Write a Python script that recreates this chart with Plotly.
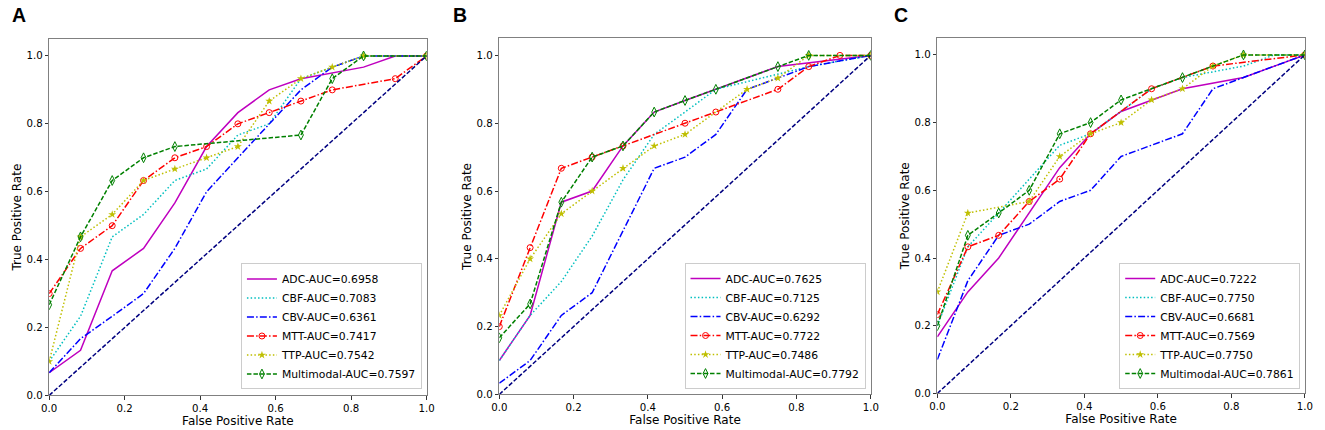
import plotly.graph_objects as go

# ROC curves (A, B, C)
MODELS = ["ADC", "CBF", "CBV", "MTT", "TTP", "Multimodal"]
PANELS = ["A", "B", "C"]

AUC_A = ["0.6958", "0.7083", "0.6361", "0.7417", "0.7542", "0.7597"]
AUC_B = ["0.7625", "0.7125", "0.6292", "0.7722", "0.7486", "0.7792"]
AUC_C = ["0.7222", "0.7750", "0.6681", "0.7569", "0.7750", "0.7861"]

# panel A
a_adc_x = [0, 0.083, 0.167, 0.25, 0.333, 0.417, 0.5, 0.583, 0.667, 0.75, 0.833, 0.917, 1.0]
a_adc_y = [0.067, 0.133, 0.367, 0.433, 0.567, 0.733, 0.833, 0.9, 0.933, 0.95, 0.967, 1.0, 1.0]
a_cbf_x = [0, 0.083, 0.167, 0.25, 0.333, 0.417, 0.5, 0.583, 0.667, 0.75, 0.833, 1.0]
a_cbf_y = [0.1, 0.233, 0.467, 0.533, 0.633, 0.667, 0.767, 0.8, 0.933, 0.967, 1.0, 1.0]
a_cbv_x = [0, 0.083, 0.167, 0.25, 0.333, 0.417, 0.5, 0.583, 0.667, 0.75, 0.833, 1.0]
a_cbv_y = [0.067, 0.167, 0.233, 0.3, 0.433, 0.6, 0.7, 0.8, 0.9, 0.967, 1.0, 1.0]
a_mtt_x = [0, 0.083, 0.167, 0.25, 0.333, 0.417, 0.5, 0.583, 0.667, 0.75, 0.917, 1.0]
a_mtt_y = [0.3, 0.433, 0.5, 0.633, 0.7, 0.733, 0.8, 0.833, 0.867, 0.9, 0.933, 1.0]
a_ttp_x = [0, 0.083, 0.167, 0.25, 0.333, 0.417, 0.5, 0.583, 0.667, 0.75, 0.833, 1.0]
a_ttp_y = [0.1, 0.467, 0.533, 0.633, 0.667, 0.7, 0.733, 0.867, 0.933, 0.967, 1.0, 1.0]
a_mm_x = [0, 0.083, 0.167, 0.25, 0.333, 0.667, 0.75, 0.833, 1.0]
a_mm_y = [0.267, 0.467, 0.633, 0.7, 0.733, 0.767, 0.933, 1.0, 1.0]

# panel B
b_adc_x = [0, 0.083, 0.167, 0.25, 0.333, 0.417, 0.5, 0.583, 0.75, 1.0]
b_adc_y = [0.1, 0.233, 0.567, 0.6, 0.733, 0.833, 0.867, 0.9, 0.967, 1.0]
b_cbf_x = [0, 0.083, 0.167, 0.25, 0.333, 0.417, 0.5, 0.583, 0.833, 1.0]
b_cbf_y = [0.1, 0.233, 0.333, 0.467, 0.633, 0.767, 0.833, 0.9, 0.967, 1.0]
b_cbv_x = [0, 0.083, 0.167, 0.25, 0.417, 0.5, 0.583, 0.667, 0.75, 0.833, 1.0]
b_cbv_y = [0.033, 0.1, 0.233, 0.3, 0.667, 0.7, 0.767, 0.9, 0.933, 0.967, 1.0]
b_mtt_x = [0, 0.083, 0.167, 0.25, 0.333, 0.5, 0.583, 0.75, 0.833, 0.917, 1.0]
b_mtt_y = [0.2, 0.433, 0.667, 0.7, 0.733, 0.8, 0.833, 0.9, 0.967, 1.0, 1.0]
b_ttp_x = [0, 0.083, 0.167, 0.25, 0.333, 0.417, 0.5, 0.667, 0.75, 0.833, 1.0]
b_ttp_y = [0.233, 0.4, 0.533, 0.6, 0.667, 0.733, 0.767, 0.9, 0.933, 1.0, 1.0]
b_mm_x = [0, 0.083, 0.167, 0.25, 0.333, 0.417, 0.5, 0.583, 0.75, 0.833, 1.0]
b_mm_y = [0.167, 0.267, 0.567, 0.7, 0.733, 0.833, 0.867, 0.9, 0.967, 1.0, 1.0]

# panel C
c_adc_x = [0, 0.083, 0.167, 0.25, 0.333, 0.417, 0.5, 0.667, 0.833, 1.0]
c_adc_y = [0.167, 0.3, 0.4, 0.533, 0.667, 0.767, 0.833, 0.9, 0.933, 1.0]
c_cbf_x = [0, 0.083, 0.167, 0.25, 0.333, 0.417, 0.5, 0.583, 0.667, 0.833, 0.917, 1.0]
c_cbf_y = [0.2, 0.433, 0.533, 0.633, 0.733, 0.767, 0.833, 0.9, 0.933, 0.967, 1.0, 1.0]
c_cbv_x = [0, 0.083, 0.167, 0.25, 0.333, 0.417, 0.5, 0.667, 0.75, 0.833, 1.0]
c_cbv_y = [0.1, 0.333, 0.467, 0.5, 0.567, 0.6, 0.7, 0.767, 0.9, 0.933, 1.0]
c_mtt_x = [0, 0.083, 0.167, 0.25, 0.333, 0.417, 0.583, 0.75, 1.0]
c_mtt_y = [0.233, 0.433, 0.467, 0.567, 0.633, 0.767, 0.9, 0.967, 1.0]
c_ttp_x = [0, 0.083, 0.25, 0.333, 0.417, 0.5, 0.583, 0.667, 0.75, 0.833, 1.0]
c_ttp_y = [0.3, 0.533, 0.567, 0.7, 0.767, 0.8, 0.867, 0.9, 0.967, 1.0, 1.0]
c_mm_x = [0, 0.083, 0.167, 0.25, 0.333, 0.417, 0.5, 0.667, 0.833, 1.0]
c_mm_y = [0.2, 0.467, 0.533, 0.6, 0.767, 0.8, 0.867, 0.933, 1.0, 1.0]

DIAG = [0, 1]

W, H = 1325, 430
# plot areas in pixels: (left, right, top, bottom)
boxes = [(41.7, 423.7, 39.5, 401), (497.3, 873.3, 39, 400), (940.7, 1312.7, 38.5, 399)]
legend_pos = [(419, 395), (868, 394.5), (1308, 394.5)]
letter_x = [3, 449, 896]

styles = {
    "ADC": dict(line=dict(color="#bf00bf", dash="solid"), mode="lines"),
    "CBF": dict(line=dict(color="#00bfbf", dash="1.5px,2.2px"), mode="lines"),
    "CBV": dict(line=dict(color="#0000ff", dash="7px,2.2px,1.5px,2.2px"), mode="lines"),
    "MTT": dict(line=dict(color="#ff0000", dash="7px,2.2px,1.5px,2.2px"), mode="lines+markers",
                marker=dict(symbol="circle-open", size=6, color="#ff0000", line=dict(width=1))),
    "TTP": dict(line=dict(color="#bfbf00", dash="1.5px,2.2px"), mode="lines+markers",
                marker=dict(symbol="star", size=6, color="#bfbf00")),
    "Multimodal": dict(line=dict(color="#008000", dash="4.5px,2px"), mode="lines+markers",
                       marker=dict(symbol="diamond-tall-open", size=7, color="#008000", line=dict(width=1))),
}

data = {
    "A": [(a_adc_x, a_adc_y), (a_cbf_x, a_cbf_y), (a_cbv_x, a_cbv_y),
          (a_mtt_x, a_mtt_y), (a_ttp_x, a_ttp_y), (a_mm_x, a_mm_y)],
    "B": [(b_adc_x, b_adc_y), (b_cbf_x, b_cbf_y), (b_cbv_x, b_cbv_y),
          (b_mtt_x, b_mtt_y), (b_ttp_x, b_ttp_y), (b_mm_x, b_mm_y)],
    "C": [(c_adc_x, c_adc_y), (c_cbf_x, c_cbf_y), (c_cbv_x, c_cbv_y),
          (c_mtt_x, c_mtt_y), (c_ttp_x, c_ttp_y), (c_mm_x, c_mm_y)],
}
aucs = {"A": AUC_A, "B": AUC_B, "C": AUC_C}

font = "DejaVu Sans"
fig = go.Figure()
layout = dict(width=W, height=H, margin=dict(l=0, r=0, t=0, b=0),
              paper_bgcolor="white", plot_bgcolor="white", annotations=[])

for i, p in enumerate(PANELS):
    n = "" if i == 0 else str(i + 1)
    xa, ya = "x" + n, "y" + n
    lg = "legend" + n
    for m, (xs, ys), auc in zip(MODELS, data[p], aucs[p]):
        st = styles[m]
        fig.add_trace(go.Scatter(x=xs, y=ys, name=f"{m}-AUC={auc}", xaxis=xa, yaxis=ya,
                                 legend=lg, mode=st["mode"],
                                 line=dict(width=1.5, **st["line"]),
                                 marker=st.get("marker")))
    fig.add_trace(go.Scatter(x=DIAG, y=DIAG, xaxis=xa, yaxis=ya, mode="lines", showlegend=False,
                             line=dict(color="#000080", width=1.5, dash="4.5px,2px")))

    l, r, t, b = boxes[i]
    common = dict(showline=True, mirror=True, linecolor="#808080", linewidth=1,
                  ticks="outside", ticklen=3.5, tickwidth=0.8, tickcolor="#333",
                  tickfont=dict(family=font, size=10.2, color="black"),
                  showgrid=False, zeroline=False, tickformat=".1f", dtick=0.2, tick0=0)
    layout["xaxis" + n] = dict(domain=[l / W, r / W], range=[0, 1], anchor=ya,
                               title=dict(text="False Positive Rate", standoff=2,
                                          font=dict(family=font, size=12, color="black")),
                               **common)
    layout["yaxis" + n] = dict(domain=[1 - b / H, 1 - t / H], range=[0, 1.05], anchor=xa,
                               title=dict(text="True Positive Rate", standoff=2,
                                          font=dict(family=font, size=12, color="black")),
                               **common)
    lx, ly = legend_pos[i]
    layout[lg] = dict(x=lx / W, y=1 - ly / H, xanchor="right", yanchor="bottom",
                      bgcolor="rgba(255,255,255,0.8)", bordercolor="#cccccc", borderwidth=1,
                      font=dict(family=font, size=10.8, color="black"))
    layout["annotations"].append(dict(text=f"<b>{p}</b>", x=letter_x[i] / W, y=1 - 3 / H,
                                      xref="paper", yref="paper", xanchor="left", yanchor="top",
                                      showarrow=False, borderpad=0,
                                      font=dict(family="Liberation Sans", size=19.5, color="black")))

fig.update_layout(**layout)
# the page's default body margin would shift the fixed-size figure
fig.write_html("out.html", config={"displayModeBar": False},
               post_script="document.body.style.margin='0';")
